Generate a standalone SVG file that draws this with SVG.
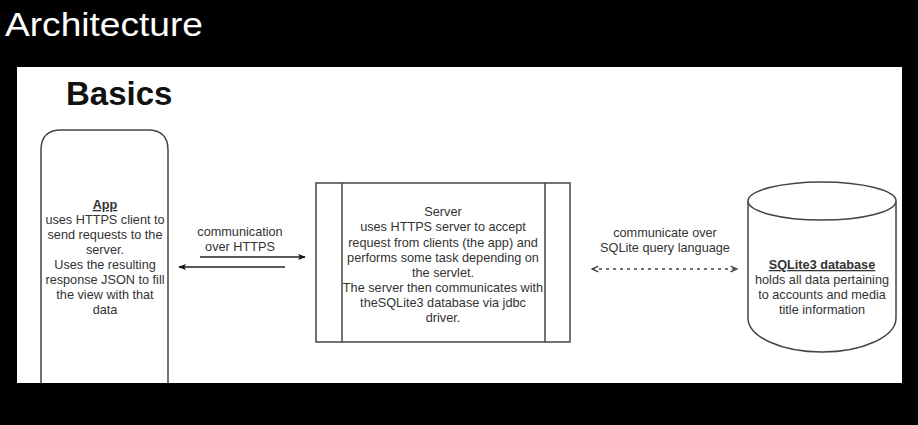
<svg xmlns="http://www.w3.org/2000/svg" width="918" height="425" viewBox="0 0 918 425">
<defs>
<style>
.t{font-family:"Liberation Sans",Arial,sans-serif;font-size:12.7px;fill:#333;text-anchor:middle}
.b{font-weight:bold;text-decoration:underline}
.shape{fill:#fff;stroke:#444;stroke-width:1.5}
.conn{stroke:#222;stroke-width:1.5;fill:none}
</style>
<marker id="ah" viewBox="0 0 10 10" refX="9" refY="5" markerWidth="8" markerHeight="8" markerUnits="userSpaceOnUse" orient="auto">
<path d="M0,1 L10,5 L0,9 L2.5,5 Z" fill="#111"/>
</marker>
<marker id="oh" viewBox="0 0 10 10" refX="9" refY="5" markerWidth="8" markerHeight="8" markerUnits="userSpaceOnUse" orient="auto-start-reverse">
<path d="M1,1.5 L9,5 L1,8.5" fill="none" stroke="#444" stroke-width="1.8"/>
</marker>
</defs>
<rect x="0" y="0" width="918" height="425" fill="#000"/>
<text x="5" y="36" font-family="Liberation Sans,Arial,sans-serif" font-size="34" fill="#fff" textLength="198" lengthAdjust="spacingAndGlyphs">Architecture</text>
<rect x="17" y="67" width="885" height="316" fill="#fff"/>
<text x="66" y="105" font-family="Liberation Sans,Arial,sans-serif" font-size="33" font-weight="bold" fill="#111">Basics</text>

<g id="app">
<path class="shape" d="M41,383 L41,150 Q41,130 61,130 L148,130 Q168,130 168,150 L168,383"/>
<text class="t"><tspan class="b" x="105" y="209">App</tspan><tspan x="105" y="224">uses HTTPS client to</tspan><tspan x="105" y="239">send requests to the</tspan><tspan x="105" y="254">server.</tspan><tspan x="105" y="269">Uses the resulting</tspan><tspan x="105" y="284">response JSON to fill</tspan><tspan x="105" y="299">the view with that</tspan><tspan x="105" y="314">data</tspan></text>
</g>

<g id="server">
<rect class="shape" x="316" y="183" width="254" height="159"/>
<line x1="342" y1="183" x2="342" y2="342" stroke="#444" stroke-width="1.5"/>
<line x1="545" y1="183" x2="545" y2="342" stroke="#444" stroke-width="1.5"/>
<text class="t"><tspan x="443" y="216">Server</tspan><tspan x="443" y="231">uses HTTPS server to accept</tspan><tspan x="443" y="247">request from clients (the app) and</tspan><tspan x="443" y="262">performs some task depending on</tspan><tspan x="443" y="277">the servlet.</tspan><tspan x="443" y="292">The server then communicates with</tspan><tspan x="443" y="307">theSQLite3 database via jdbc</tspan><tspan x="443" y="322">driver.</tspan></text>
</g>

<g id="database">
<path class="shape" d="M748,201 L748,318 A74,34 0 0 0 896,318 L896,201"/>
<ellipse class="shape" cx="822" cy="201" rx="74" ry="19"/>
<text class="t"><tspan class="b" x="822" y="269">SQLite3 database</tspan><tspan x="822" y="284">holds all data pertaining</tspan><tspan x="822" y="299">to accounts and media</tspan><tspan x="822" y="314">title information</tspan></text>
</g>

<g id="connectors">
<line class="conn" x1="200" y1="257" x2="305" y2="257" marker-end="url(#ah)"/>
<line class="conn" x1="285" y1="267" x2="179" y2="267" marker-end="url(#ah)"/>
<text class="t"><tspan x="240" y="236">communication</tspan><tspan x="240" y="251">over HTTPS</tspan></text>
<line x1="592" y1="269" x2="737" y2="269" stroke="#444" stroke-width="1.5" stroke-dasharray="3,4" fill="none" marker-start="url(#oh)" marker-end="url(#oh)"/>
<text class="t"><tspan x="665" y="237">communicate over</tspan><tspan x="665" y="252">SQLite query language</tspan></text>
</g>
</svg>
